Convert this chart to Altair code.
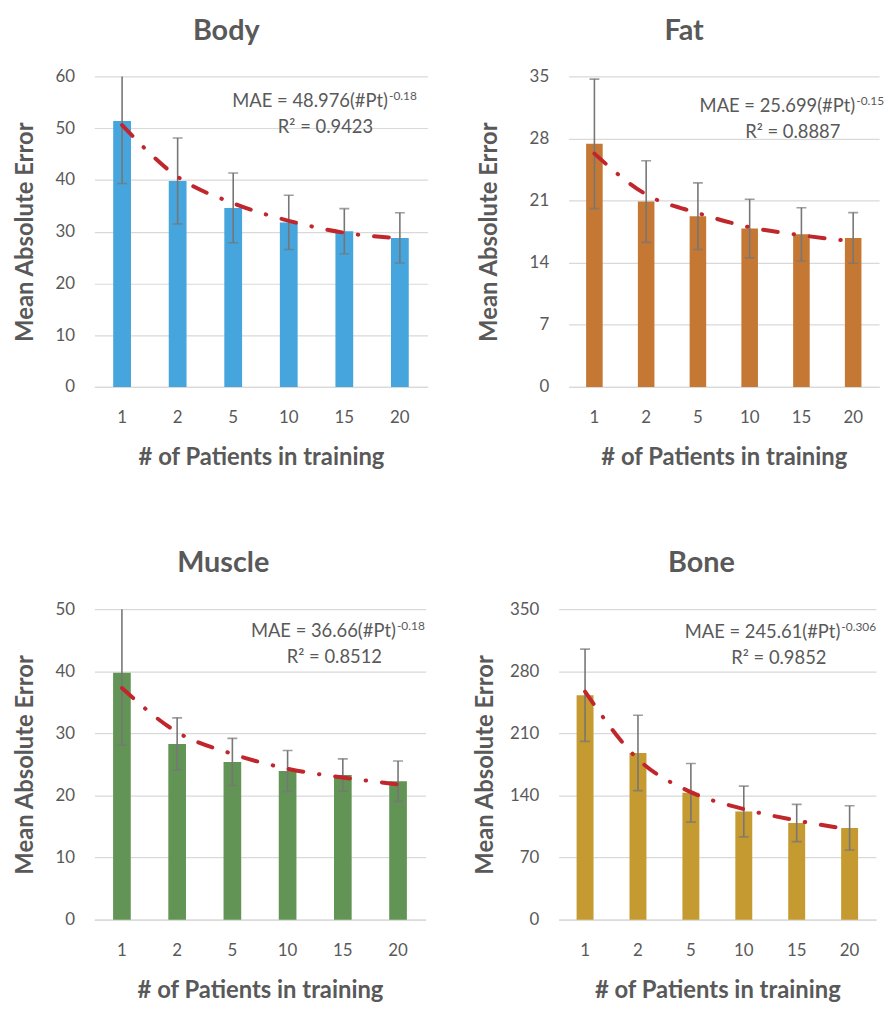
import altair as alt
import pandas as pd

# ---------------- data ----------------
patients = ["1", "2", "5", "10", "15", "20"]

body_mae = [51.4, 39.8, 34.6, 31.8, 30.1, 28.8]
body_err = [12.1, 8.3, 6.75, 5.25, 4.35, 4.85]
body_trend = [50.6, 40.6, 35.5, 32.1, 29.8, 28.7]
body_ticks = [0, 10, 20, 30, 40, 50, 60]

fat_mae = [27.4, 20.9, 19.25, 17.85, 17.2, 16.8]
fat_err = [7.3, 4.6, 3.75, 3.3, 3.0, 2.85]
fat_trend = [26.3, 21.7, 19.6, 18.0, 17.1, 16.4]
fat_ticks = [0, 7, 14, 21, 28, 35]

muscle_mae = [39.75, 28.3, 25.4, 23.95, 23.3, 22.3]
muscle_err = [11.65, 4.2, 3.8, 3.3, 2.6, 3.25]
muscle_trend = [37.3, 30.2, 26.7, 24.3, 22.9, 21.8]
muscle_ticks = [0, 10, 20, 30, 40, 50]

bone_mae = [253.0, 188.0, 143.0, 122.0, 109.0, 103.5]
bone_err = [52.0, 42.5, 33.0, 28.6, 21.0, 25.0]
bone_trend = [257.0, 181.0, 143.8, 124.7, 111.9, 101.6]
bone_ticks = [0, 70, 140, 210, 280, 350]

equations = ["MAE = 48.976(#Pt)", "MAE = 25.699(#Pt)", "MAE = 36.66(#Pt)", "MAE = 245.61(#Pt)"]
exponents = ["-0.18", "-0.15", "-0.18", "-0.306"]
r_squared = ["R² = 0.9423", "R² = 0.8887", "R² = 0.8512", "R² = 0.9852"]

FONT = "Lato"
GRAY = "#595959"
H = 313


def panel(title, mae, err, trend, color, ticks, width, eq, sup, r2, eq_x, eq_y, r2_x,
          title_pad, title_dx):
    df = pd.DataFrame({
        "pt": patients,
        "mae": mae,
        "lo": [m - e for m, e in zip(mae, err)],
        "hi": [m + e for m, e in zip(mae, err)],
        "trend": trend,
    })
    xscale = alt.Scale(paddingInner=0.68, paddingOuter=0.34)
    xaxis = alt.Axis(title="# of Patients in training", labelAngle=0, ticks=False, tickSize=0,
                     domainColor="#D9D9D9", domainWidth=1.2, labelPadding=23, titlePadding=20,
                     labelFontSize=17, labelColor=GRAY, labelFont=FONT,
                     titleFontSize=24, titleFont=FONT, titleFontWeight="bold", titleColor=GRAY)
    x = alt.X("pt:N", sort=patients, scale=xscale, axis=xaxis)
    yscale = alt.Scale(domain=[0, ticks[-1]], nice=False, zero=True)
    yaxis = alt.Axis(title="Mean Absolute Error", values=ticks, ticks=False, tickSize=0, domain=False,
                     gridColor="#D9D9D9", gridWidth=1.2, labelPadding=20, titlePadding=title_pad,
                     labelFontSize=17, labelColor=GRAY, labelFont=FONT,
                     titleFontSize=24, titleFont=FONT, titleFontWeight="bold", titleColor=GRAY)

    def Y(f):
        return alt.Y(f, scale=yscale, axis=yaxis)

    base = alt.Chart(df)
    bars = base.mark_bar(color=color).encode(x=x, y=Y("mae:Q"))
    rules = base.mark_rule(color="#767676", strokeWidth=1.6, clip=True).encode(
        x=x, y=Y("lo:Q"), y2="hi:Q")
    cap_lo = base.mark_tick(color="#767676", size=10, thickness=1.6, clip=True).encode(x=x, y=Y("lo:Q"))
    cap_hi = base.mark_tick(color="#767676", size=10, thickness=1.6, clip=True).encode(x=x, y=Y("hi:Q"))
    line = base.mark_line(color="#C0272D", strokeWidth=4, strokeDash=[15, 16, 0.5, 16],
                          strokeCap="round", interpolate="monotone").encode(x=x, y=Y("trend:Q"))

    t1 = alt.Chart(pd.DataFrame({"t": [eq]})).mark_text(
        align="right", baseline="alphabetic", fontSize=18.5, font=FONT, color=GRAY
    ).encode(x=alt.value(eq_x), y=alt.value(eq_y), text="t:N")
    t2 = alt.Chart(pd.DataFrame({"t": [sup]})).mark_text(
        align="left", baseline="alphabetic", fontSize=12, font=FONT, color=GRAY, dx=1
    ).encode(x=alt.value(eq_x), y=alt.value(eq_y - 7), text="t:N")
    t3 = alt.Chart(pd.DataFrame({"t": [r2]})).mark_text(
        align="center", baseline="alphabetic", fontSize=18.5, font=FONT, color=GRAY
    ).encode(x=alt.value(r2_x), y=alt.value(eq_y + 26), text="t:N")

    return alt.layer(bars, rules, cap_lo, cap_hi, line, t1, t2, t3).properties(
        width=width, height=H,
        title=alt.TitleParams(title, fontSize=29, font=FONT, fontWeight="bold", color=GRAY,
                              offset=22, anchor="middle", dx=title_dx),
    )


body = panel("Body", body_mae, body_err, body_trend, "#45A5DC", body_ticks, 336,
             equations[0], exponents[0], r_squared[0], 296, 31, 233, 18, -35)
fat = panel("Fat", fat_mae, fat_err, fat_trend, "#C47834", fat_ticks, 313,
            equations[1], exponents[1], r_squared[1], 289, 36, 226, 28, -40)
muscle = panel("Muscle", muscle_mae, muscle_err, muscle_trend, "#629455", muscle_ticks, 334,
               equations[2], exponents[2], r_squared[2], 304, 28, 242, 18, -37)
bone = panel("Bone", bone_mae, bone_err, bone_trend, "#C49A31", bone_ticks, 320,
             equations[3], exponents[3], r_squared[3], 284, 29, 222, 12, -16)

chart = alt.vconcat(
    alt.hconcat(body, fat, spacing=50),
    alt.hconcat(muscle, bone, spacing=48),
    spacing=81,
).properties(
    padding={"left": 5, "right": 0, "top": 5, "bottom": 0}
).configure(
    background="white",
    view=alt.ViewConfig(strokeWidth=0),
)

chart.save("out.html", embed_options={"renderer": "svg", "actions": False})
